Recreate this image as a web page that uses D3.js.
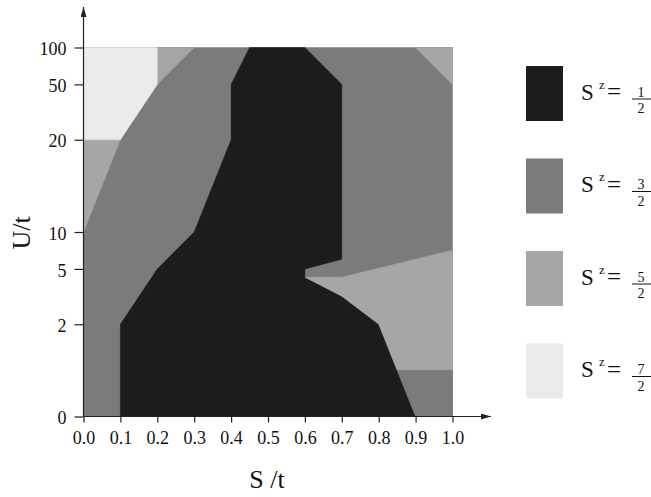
<!DOCTYPE html>
<html>
<head>
<meta charset="utf-8">
<script src="https://cdn.jsdelivr.net/npm/d3@7"></script>
<style>
  body { margin: 0; background: #fff; }
  svg { display: block; }
  text { font-family: "Liberation Serif", "DejaVu Serif", serif; }
</style>
</head>
<body>
<div id="chart"></div>
<script>
// ticks of both axes
var sTicks = [0, 0.1, 0.2, 0.3, 0.4, 0.5, 0.6, 0.7, 0.8, 0.9, 1.0];
var uTicks = [0, 2, 5, 10, 20, 50, 100];
// the U axis is not linear: share of the plot height at each U tick
var uTickShare = [0, 0.25, 0.4, 0.5, 0.75, 0.9, 1];

// phase regions, vertices as [S/t, U/t]
var regionThreeHalves = [[0, 0], [1, 0], [1, 100], [0, 100]];
var regionOneHalf = [[0.1, 0], [0.1, 2], [0.2, 5], [0.3, 10], [0.4, 20], [0.4, 50], [0.45, 100],
                     [0.6, 100], [0.7, 50], [0.7, 6.3], [0.6, 5], [0.6, 4.55], [0.7, 3.52],
                     [0.8, 2], [0.9, 0]];
var regionsFiveHalves = [
    [[0, 20], [0.1, 20], [0, 10]],
    [[0.2, 100], [0.3, 100], [0.2, 50]],
    [[0.9, 100], [1, 100], [1, 50]],
    [[0.6, 4.55], [0.7, 4.55], [1, 7.54], [1, 1], [0.85, 1], [0.8, 2], [0.7, 3.52]]
];
var regionThreeHalvesCorner = [[0.85, 1], [1, 1], [1, 0], [0.9, 0]];
var regionSevenHalves = [[0, 100], [0.2, 100], [0.2, 50], [0.1, 20], [0, 20]];

// legend
var legendNumerators = ["1", "3", "5", "7"];
var legendColors = ["#1c1c1c", "#7b7b7b", "#a6a6a6", "#ebebeb"];

(function() {
    var width = 651, height = 497;
    var plotLeft = 83.5, plotRight = 452.5, plotTop = 47.5, plotBottom = 416.5;

    var svg = d3.select("#chart").append("svg")
            .attr("width", width)
            .attr("height", height);

    var x = d3.scaleLinear().domain([0, 1]).range([plotLeft, plotRight]);
    var y = d3.scaleLinear()
            .domain(uTicks)
            .range(uTickShare.map(function(f) { return plotBottom - f * (plotBottom - plotTop); }));

    var line = d3.line()
            .x(function(d) { return x(d[0]); })
            .y(function(d) { return y(d[1]); });

    function drawRegion(pts, color) {
        svg.append("path")
            .attr("d", line(pts) + "Z")
            .attr("fill", color)
            .attr("stroke", color)
            .attr("stroke-width", 0.5);
    }

    drawRegion(regionThreeHalves, legendColors[1]);
    drawRegion(regionOneHalf, legendColors[0]);
    for (var i = 0; i < regionsFiveHalves.length; i++) {
        drawRegion(regionsFiveHalves[i], legendColors[2]);
    }
    drawRegion(regionThreeHalvesCorner, legendColors[1]);
    drawRegion(regionSevenHalves, legendColors[3]);

    // axes
    var xAxis = d3.axisBottom(x)
            .tickValues(sTicks)
            .tickFormat(d3.format(".1f"))
            .tickSizeInner(6)
            .tickSizeOuter(0);
    var gx = svg.append("g")
            .attr("transform", "translate(0," + plotBottom + ")")
            .call(xAxis);
    gx.select(".domain").remove();
    gx.selectAll("line").attr("stroke", "#222").attr("stroke-width", 1.2);
    gx.selectAll("text")
        .attr("y", 15)
        .attr("dy", "0.71em")
        .attr("fill", "#111")
        .style("font-size", "18px")
        .style("font-family", "Liberation Serif, serif");

    var yAxis = d3.axisLeft(y)
            .tickValues(uTicks)
            .tickSizeInner(9)
            .tickSizeOuter(0);
    var gy = svg.append("g")
            .attr("transform", "translate(" + plotLeft + ",0)")
            .call(yAxis);
    gy.select(".domain").remove();
    gy.selectAll("line").attr("stroke", "#222").attr("stroke-width", 1.2);
    gy.selectAll("text")
        .attr("x", -17)
        .attr("dy", "0.4em")
        .attr("fill", "#111")
        .style("font-size", "18px")
        .style("font-family", "Liberation Serif, serif");

    // axis lines with arrow heads
    var defs = svg.append("defs");
    defs.append("marker")
        .attr("id", "arrow")
        .attr("viewBox", "0 0 10 6")
        .attr("refX", 10)
        .attr("refY", 3)
        .attr("markerWidth", 10)
        .attr("markerHeight", 6)
        .attr("markerUnits", "userSpaceOnUse")
        .attr("orient", "auto")
        .append("path")
        .attr("d", "M0,0L10,3L0,6Z")
        .attr("fill", "#222");

    svg.append("line")
        .attr("x1", plotLeft).attr("y1", plotBottom)
        .attr("x2", 491).attr("y2", plotBottom)
        .attr("stroke", "#222").attr("stroke-width", 1.2)
        .attr("marker-end", "url(#arrow)");
    svg.append("line")
        .attr("x1", plotLeft).attr("y1", plotBottom)
        .attr("x2", plotLeft).attr("y2", 7)
        .attr("stroke", "#222").attr("stroke-width", 1.2)
        .attr("marker-end", "url(#arrow)");

    // axis titles
    svg.append("text")
        .attr("x", 267).attr("y", 488)
        .attr("text-anchor", "middle")
        .style("font-size", "26px")
        .attr("fill", "#111")
        .text("S /t");
    svg.append("text")
        .attr("transform", "translate(30,233) rotate(-90)")
        .attr("text-anchor", "middle")
        .style("font-size", "26px")
        .attr("fill", "#111")
        .text("U/t");

    // legend
    var legend = svg.selectAll(".legend")
            .data(legendNumerators)
            .enter().append("g")
            .attr("class", "legend")
            .attr("transform", function(d, i) { return "translate(526," + (66 + i * 92.5) + ")"; });

    legend.append("rect")
        .attr("width", 37)
        .attr("height", 55)
        .attr("fill", function(d, i) { return legendColors[i]; });

    legend.append("text")
        .attr("x", 55).attr("y", 33.5)
        .style("font-size", "23px")
        .attr("fill", "#111")
        .text("S");
    legend.append("text")
        .attr("x", 73).attr("y", 22.5)
        .style("font-size", "13px")
        .attr("fill", "#111")
        .text("z");
    legend.append("text")
        .attr("x", 81).attr("y", 34)
        .style("font-size", "25px")
        .attr("fill", "#111")
        .text("=");
    legend.append("text")
        .attr("x", 115).attr("y", 30.7)
        .attr("text-anchor", "middle")
        .style("font-size", "14px")
        .attr("fill", "#111")
        .text(function(d) { return d; });
    legend.append("line")
        .attr("x1", 106).attr("x2", 125)
        .attr("y1", 33).attr("y2", 33)
        .attr("stroke", "#111")
        .attr("stroke-width", 1);
    legend.append("text")
        .attr("x", 115).attr("y", 47.3)
        .attr("text-anchor", "middle")
        .style("font-size", "14px")
        .attr("fill", "#111")
        .text("2");
})();
</script>
</body>
</html>
